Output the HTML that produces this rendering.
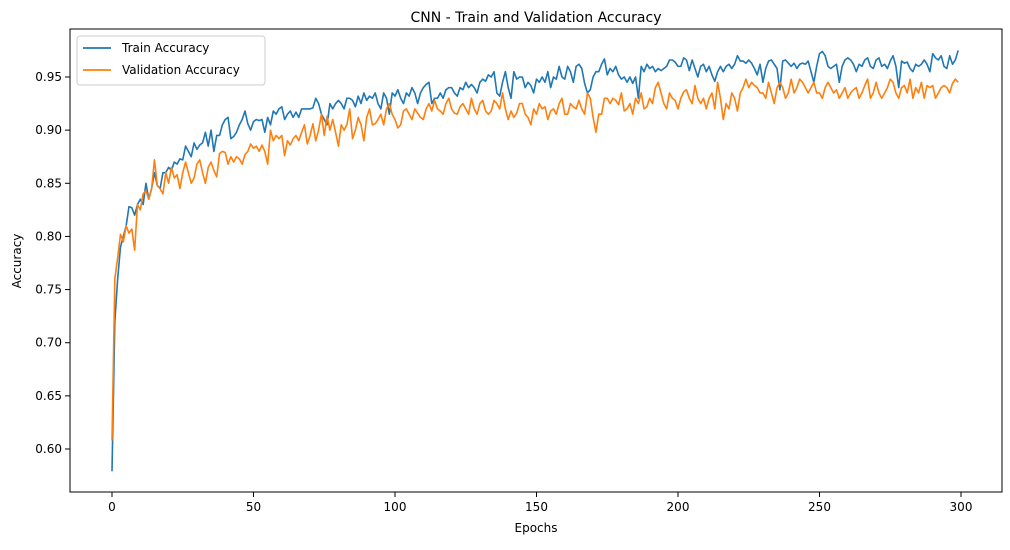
<!DOCTYPE html>
<html><head><meta charset="utf-8"><style>
body{margin:0;background:#fff;font-family:"Liberation Sans","DejaVu Sans",sans-serif}
svg text{font-family:"DejaVu Sans","Liberation Sans",sans-serif;fill:#000}
</style></head><body>
<svg id="c" width="1010" height="545"></svg>
<script>
const epochs=300;
const xTicks=[0,50,100,150,200,250,300];
const yTicks=[0.60,0.65,0.70,0.75,0.80,0.85,0.90,0.95];
const trainAcc=[0.579,0.72,0.76,0.79,0.80,0.81,0.828,0.827,0.82,0.83,
0.835,0.83,0.85,0.835,0.845,0.86,0.848,0.845,0.86,0.86,
0.865,0.862,0.87,0.868,0.873,0.872,0.885,0.88,0.875,0.888,
0.882,0.886,0.888,0.898,0.885,0.9,0.88,0.895,0.895,0.905,
0.91,0.912,0.892,0.894,0.898,0.905,0.91,0.918,0.906,0.9,
0.908,0.91,0.909,0.91,0.898,0.912,0.905,0.918,0.915,0.92,
0.922,0.91,0.915,0.918,0.912,0.917,0.912,0.92,0.92,0.92,
0.92,0.921,0.93,0.925,0.915,0.91,0.905,0.925,0.92,0.925,
0.928,0.925,0.92,0.93,0.93,0.928,0.922,0.932,0.925,0.935,
0.928,0.932,0.93,0.935,0.925,0.92,0.935,0.93,0.915,0.935,
0.932,0.938,0.93,0.925,0.935,0.932,0.94,0.935,0.925,0.935,
0.94,0.943,0.945,0.925,0.93,0.93,0.935,0.93,0.938,0.94,
0.94,0.935,0.932,0.94,0.938,0.945,0.94,0.943,0.94,0.935,
0.945,0.948,0.946,0.952,0.95,0.955,0.935,0.932,0.945,0.955,
0.94,0.93,0.955,0.948,0.95,0.95,0.94,0.945,0.942,0.935,
0.948,0.945,0.95,0.945,0.955,0.94,0.95,0.948,0.96,0.95,
0.948,0.96,0.955,0.945,0.96,0.962,0.958,0.944,0.935,0.938,
0.95,0.955,0.955,0.962,0.967,0.952,0.958,0.955,0.96,0.952,
0.948,0.95,0.945,0.95,0.944,0.95,0.93,0.96,0.955,0.962,
0.958,0.96,0.955,0.958,0.956,0.958,0.96,0.966,0.966,0.964,
0.96,0.96,0.968,0.966,0.956,0.966,0.958,0.95,0.96,0.962,
0.955,0.96,0.952,0.946,0.955,0.96,0.955,0.96,0.962,0.958,
0.962,0.97,0.965,0.965,0.963,0.966,0.963,0.958,0.952,0.962,
0.945,0.958,0.965,0.966,0.962,0.958,0.938,0.965,0.966,0.963,
0.96,0.963,0.958,0.962,0.963,0.962,0.965,0.955,0.945,0.96,
0.972,0.974,0.97,0.96,0.958,0.96,0.962,0.945,0.96,0.966,
0.968,0.966,0.962,0.955,0.962,0.96,0.966,0.968,0.96,0.958,
0.966,0.968,0.96,0.962,0.958,0.965,0.97,0.96,0.94,0.965,
0.963,0.964,0.958,0.955,0.962,0.96,0.962,0.966,0.962,0.955,
0.972,0.968,0.966,0.97,0.96,0.958,0.97,0.962,0.966,0.975];
const valAcc=[0.608,0.76,0.78,0.802,0.795,0.81,0.803,0.807,0.787,0.83,
0.825,0.84,0.843,0.835,0.845,0.872,0.848,0.845,0.84,0.86,
0.85,0.865,0.855,0.858,0.845,0.86,0.87,0.86,0.85,0.855,
0.868,0.872,0.86,0.85,0.865,0.87,0.862,0.856,0.878,0.88,
0.879,0.868,0.875,0.87,0.875,0.873,0.868,0.877,0.88,0.887,
0.883,0.885,0.88,0.886,0.88,0.868,0.9,0.89,0.895,0.892,
0.895,0.876,0.89,0.886,0.892,0.895,0.89,0.898,0.905,0.887,
0.895,0.906,0.89,0.9,0.915,0.895,0.913,0.9,0.91,0.898,
0.885,0.905,0.9,0.905,0.92,0.892,0.9,0.912,0.905,0.89,
0.912,0.92,0.905,0.906,0.91,0.915,0.905,0.92,0.925,0.915,
0.91,0.902,0.905,0.918,0.92,0.915,0.91,0.92,0.916,0.912,
0.91,0.92,0.925,0.918,0.928,0.92,0.918,0.915,0.925,0.93,
0.92,0.916,0.915,0.922,0.925,0.92,0.915,0.93,0.92,0.915,
0.925,0.928,0.918,0.915,0.918,0.928,0.925,0.92,0.935,0.92,
0.91,0.918,0.912,0.916,0.925,0.925,0.915,0.912,0.905,0.92,
0.915,0.925,0.92,0.922,0.91,0.918,0.92,0.915,0.925,0.93,
0.915,0.915,0.925,0.922,0.92,0.928,0.92,0.915,0.935,0.93,
0.912,0.898,0.915,0.915,0.93,0.93,0.925,0.93,0.928,0.924,
0.935,0.918,0.92,0.925,0.915,0.93,0.925,0.935,0.92,0.922,
0.93,0.925,0.94,0.945,0.935,0.925,0.92,0.935,0.93,0.928,
0.92,0.93,0.936,0.938,0.93,0.925,0.942,0.93,0.925,0.93,
0.92,0.93,0.935,0.92,0.945,0.93,0.91,0.925,0.92,0.935,
0.93,0.918,0.935,0.94,0.948,0.94,0.945,0.942,0.94,0.935,
0.935,0.93,0.945,0.935,0.925,0.94,0.945,0.94,0.93,0.935,
0.948,0.935,0.94,0.948,0.945,0.94,0.935,0.94,0.945,0.935,
0.935,0.93,0.94,0.945,0.94,0.935,0.938,0.93,0.935,0.94,
0.93,0.935,0.938,0.94,0.93,0.935,0.942,0.948,0.93,0.935,
0.945,0.935,0.93,0.935,0.94,0.948,0.945,0.935,0.93,0.94,
0.942,0.935,0.948,0.93,0.94,0.935,0.945,0.93,0.942,0.94,
0.942,0.93,0.935,0.94,0.942,0.94,0.935,0.944,0.948,0.945];

const NS='http://www.w3.org/2000/svg';
const svg=document.getElementById('c');
const L=70,R=1002,T=29,B=492;
const X=v=>112+(v/300)*(961-112);
const Y=v=>449-(v-0.60)/0.35*(449-77);
function mk(tag,attrs,parent){const e=document.createElementNS(NS,tag);for(const k in attrs)e.setAttribute(k,attrs[k]);(parent||svg).appendChild(e);return e;}

const frame=mk('rect',{x:L,y:T,width:R-L,height:B-T,fill:'none',stroke:'#000','stroke-width':1});



xTicks.forEach(t=>{
  const l=mk('line',{x1:X(t),x2:X(t),y1:B,y2:B+5,stroke:'#000'});
  
  
  const tx=mk('text',{x:X(t),y:B+19,'text-anchor':'middle','font-size':12});
  tx.textContent=t;
  
  
});
yTicks.forEach(t=>{
  const l=mk('line',{x1:L-5,x2:L,y1:Y(t),y2:Y(t),stroke:'#000'});
  
  
  const tx=mk('text',{x:L-8,y:Y(t)+4,'text-anchor':'end','font-size':12});
  tx.textContent=t.toFixed(2);
  
  
});

function series(arr,color,name){
  const d=arr.map((v,i)=>(i?'L':'M')+X(i).toFixed(2)+','+Y(v).toFixed(2)).join('');
  const p=mk('path',{d:d,fill:'none',stroke:color,'stroke-width':1.6,'stroke-linejoin':'round'});
  
  
}
series(trainAcc,'#1f77b4','train-accuracy-line');
series(valAcc,'#ff7f0e','validation-accuracy-line');

const title=mk('text',{x:(L+R)/2,y:22,'text-anchor':'middle','font-size':14});
title.textContent='CNN - Train and Validation Accuracy';


const xl=mk('text',{x:(L+R)/2,y:532,'text-anchor':'middle','font-size':12});
xl.textContent='Epochs';


const yl=mk('text',{x:0,y:0,'text-anchor':'middle','font-size':12,transform:'translate(21,261) rotate(-90)'});
yl.textContent='Accuracy';



const lg=mk('g',{});


mk('rect',{x:77,y:36,width:188,height:49,rx:3,fill:'#fff',stroke:'#ccc'},lg);
const entries=[['Train Accuracy','#1f77b4',48],['Validation Accuracy','#ff7f0e',70]];
entries.forEach(([lab,col,yy])=>{
  const g=mk('g',{},lg);
  
  
  mk('line',{x1:83,x2:111,y1:yy,y2:yy,stroke:col,'stroke-width':1.8},g);
  const t=mk('text',{x:122,y:yy+4,'font-size':12},g);
  t.textContent=lab;
});
</script>
</body></html>
